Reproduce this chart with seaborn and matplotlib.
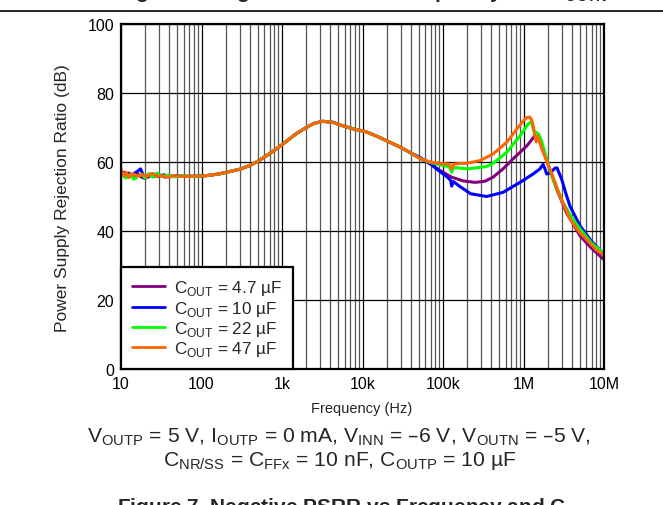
import numpy as np
import pandas as pd
import matplotlib.pyplot as plt
import seaborn as sns  # type: ignore
from matplotlib.lines import Line2D
from matplotlib.ticker import LogLocator, NullFormatter

# Series labels and colours
labels = [r'C$_\mathregular{OUT}$ = 4.7 µF', r'C$_\mathregular{OUT}$ = 10 µF',
          r'C$_\mathregular{OUT}$ = 22 µF', r'C$_\mathregular{OUT}$ = 47 µF']
colors = ['#800080', '#0000FF', '#00FF00', '#FF6600']

# Low-frequency (noisy) part, per series
low_freq_47 = [10, 11, 12.5, 14, 16, 18, 20, 23, 26, 30, 35, 40, 50, 60, 80]
low_psrr_47 = [57.0, 56.3, 56.8, 56.0, 56.6, 55.6, 55.2, 56.2, 55.8, 56.3, 55.6, 56.0, 55.8, 55.9, 55.8]
low_freq_10 = [10, 11, 12.5, 14, 16, 17.5, 19, 22, 25, 29, 34, 40, 50, 65, 80]
low_psrr_10 = [56.2, 57.0, 55.6, 56.4, 57.3, 58.0, 56.0, 55.7, 56.6, 55.8, 56.3, 55.7, 56.0, 55.8, 55.9]
low_freq_22 = [10, 11.5, 13, 14.5, 16, 18, 20, 22, 25, 28, 32, 38, 45, 60, 80]
low_psrr_22 = [56.5, 55.4, 56.3, 55.0, 55.8, 56.5, 55.3, 56.6, 55.6, 56.8, 55.8, 56.2, 55.7, 56.0, 55.8]
low_freq_470 = [10, 10.7, 11.5, 12.5, 14, 16, 18, 21, 24, 28, 33, 38, 45, 60, 80]
low_psrr_470 = [58.0, 56.0, 57.0, 55.5, 56.6, 55.9, 56.4, 55.8, 56.7, 55.9, 56.0, 55.6, 56.0, 55.8, 55.9]

# Shared middle part (all curves overlap)
mid_freq = [100, 130, 170, 220, 300, 400, 500, 700, 1000, 1500, 2000, 2500, 3200, 4300,
            5500, 7700, 11000, 16000, 21000, 29000, 40000]
mid_psrr = [55.9, 56.2, 56.6, 57.2, 57.9, 59.0, 60.2, 62.4, 65.0, 68.2, 70.0, 71.2, 71.8, 71.5,
            70.6, 69.6, 68.8, 67.2, 65.9, 64.4, 62.6]

# High-frequency part, per series
hi_freq_47 = [52e3, 69e3, 92e3, 128e3, 180e3, 250e3, 330e3, 418e3, 556e3, 741e3, 906e3, 1.1e6,
              1.3e6, 1.39e6, 1.5e6, 1.6e6, 1.75e6, 1.94e6, 2.3e6, 2.58e6, 3.0e6, 3.44e6, 4.2e6,
              5.04e6, 7e6, 1e7]
hi_psrr_47 = [61.0, 59.6, 57.5, 55.6, 54.5, 54.1, 54.4, 55.6, 58.0, 60.9, 62.8, 64.7, 66.8, 67.6,
              67.2, 66.2, 63.8, 60.4, 55.5, 52.2, 48.5, 45.2, 41.8, 38.6, 35.0, 31.7]
hi_freq_10 = [52e3, 69e3, 92e3, 115e3, 125e3, 128e3, 135e3, 160e3, 220e3, 349e3, 556e3, 906e3,
              1.31e6, 1.6e6, 1.75e6, 1.85e6, 1.94e6, 2.15e6, 2.45e6, 2.6e6, 2.75e6, 2.98e6, 3.4e6,
              3.78e6, 5.04e6, 7e6, 1e7]
hi_psrr_10 = [61.3, 59.5, 57.2, 55.5, 54.6, 53.0, 54.3, 53.0, 50.8, 50.0, 51.2, 54.1, 56.5, 58.0,
              59.3, 58.0, 56.5, 56.8, 58.2, 58.3, 57.0, 55.0, 50.5, 47.2, 41.5, 37.0, 33.3]
hi_freq_22 = [52e3, 69e3, 92e3, 120e3, 128e3, 135e3, 205e3, 349e3, 418e3, 618e3, 906e3, 1.14e6,
              1.26e6, 1.31e6, 1.38e6, 1.45e6, 1.55e6, 1.68e6, 1.94e6, 2.32e6, 3.09e6, 4.0e6,
              5.04e6, 7e6, 1e7]
hi_psrr_22 = [61.0, 59.9, 59.2, 58.6, 57.0, 58.4, 58.0, 58.7, 59.6, 62.8, 67.6, 71.0, 71.8, 69.8,
              68.3, 68.6, 68.0, 66.0, 60.9, 55.0, 48.3, 43.8, 40.6, 36.5, 33.5]
hi_freq_470 = [52e3, 69e3, 92e3, 120e3, 128e3, 135e3, 205e3, 288e3, 418e3, 618e3, 824e3, 1.0e6,
               1.1e6, 1.2e6, 1.26e6, 1.33e6, 1.4e6, 1.44e6, 1.5e6, 1.6e6, 1.75e6, 2.13e6, 2.84e6,
               3.78e6, 5e6, 6.1e6, 8e6, 1e7]
hi_psrr_470 = [61.0, 60.0, 59.6, 59.4, 58.0, 59.4, 59.7, 60.4, 62.3, 65.7, 69.5, 72.0, 72.9, 73.0,
               72.2, 70.2, 67.0, 65.8, 67.5, 65.5, 62.9, 58.0, 50.2, 43.5, 39.5, 37.5, 34.5, 33.0]

x_tick_vals = [10, 100, 1e3, 1e4, 1e5, 1e6, 1e7]
x_tick_labels = ['10', '100', '1k', '10k', '100k', '1M', '10M']
y_tick_vals = [0, 20, 40, 60, 80, 100]

series = [
    (labels[0], low_freq_47, low_psrr_47, hi_freq_47, hi_psrr_47),
    (labels[1], low_freq_10, low_psrr_10, hi_freq_10, hi_psrr_10),
    (labels[2], low_freq_22, low_psrr_22, hi_freq_22, hi_psrr_22),
    (labels[3], low_freq_470, low_psrr_470, hi_freq_470, hi_psrr_470),
]
frames = []
for name, lf, lp, hf, hp in series:
    frames.append(pd.DataFrame({'freq': lf + mid_freq + hf,
                                'psrr': lp + mid_psrr + hp,
                                'series': name}))
df = pd.concat(frames, ignore_index=True)

sns.set_theme(style='white')
plt.rcParams['font.family'] = ['Liberation Sans', 'DejaVu Sans']

fig = plt.figure(figsize=(6.63, 5.06), dpi=100)
W, H = 663, 506
ax = fig.add_axes([121 / W, 1 - 370 / H, (604 - 121) / W, (370 - 25) / H])

sns.lineplot(data=df, x='freq', y='psrr', hue='series', hue_order=labels,
             palette=colors, estimator=None, sort=False, linewidth=2.2, ax=ax)

ax.set_xscale('log')
ax.set_xlim(10, 1e7)
ax.set_ylim(0, 100)
ax.set_xticks(x_tick_vals)
ax.set_xticklabels(x_tick_labels)
ax.xaxis.set_minor_locator(LogLocator(base=10, subs=np.arange(2, 10)))
ax.xaxis.set_minor_formatter(NullFormatter())
ax.set_yticks(y_tick_vals)
ax.grid(which='major', color='black', linewidth=0.9)
ax.grid(which='minor', axis='x', color='#555555', linewidth=0.9)
ax.set_axisbelow(True)
ax.tick_params(which='both', length=0, labelsize=11.5, pad=5, colors='black')
for sp in ax.spines.values():
    sp.set_color('black')
    sp.set_linewidth(1.6)

ax.set_xlabel('')
ax.set_ylabel('')

handles, _ = ax.get_legend_handles_labels()
leg = ax.legend(handles, labels, loc='lower left', bbox_to_anchor=(0, 0), borderaxespad=0,
                fancybox=False, framealpha=1, edgecolor='black', fontsize=12.3,
                handlelength=1.9, handletextpad=0.55, labelspacing=0.07, borderpad=0.65)
leg.get_frame().set_linewidth(1.6)
for ln in leg.get_lines():
    ln.set_linewidth(2.0)

fig.text(62.5 / W, 1 - 198 / H, 'Power Supply Rejection Ratio (dB)', rotation=90,
         ha='center', va='center', fontsize=12.5)
fig.text(362 / W, 1 - 409 / H, 'Frequency (Hz)', ha='center', va='center', fontsize=10.5)
fig.text(339 / W, 1 - 437 / H,
         r'V$_\mathregular{OUTP}$ = 5 V, I$_\mathregular{OUTP}$ = 0 mA, '
         r'V$_\mathregular{INN}$ = –6 V, V$_\mathregular{OUTN}$ = –5 V,',
         ha='center', va='center', fontsize=15.2)
fig.text(340 / W, 1 - 461 / H,
         r'C$_\mathregular{NR/SS}$ = C$_\mathregular{FFx}$ = 10 nF, C$_\mathregular{OUTP}$ = 10 µF',
         ha='center', va='center', fontsize=15.2)

# clipped captions at top and bottom of the page crop
fig.text(362 / W, 1 + 2 / H, r'Figure 6. Negative PSRR vs Frequency and C$_\mathregular{OUTN}$',
         ha='center', va='baseline', fontsize=15, fontweight='bold')
fig.text(362 / W, 1 - 513 / H, r'Figure 7. Negative PSRR vs Frequency and C$_\mathregular{OUTN}$',
         ha='center', va='baseline', fontsize=15, fontweight='bold')
fig.add_artist(Line2D([0, 1], [1 - 11.5 / H] * 2, transform=fig.transFigure,
                      color='black', linewidth=1.2))

fig.savefig('out.png', dpi=100)
